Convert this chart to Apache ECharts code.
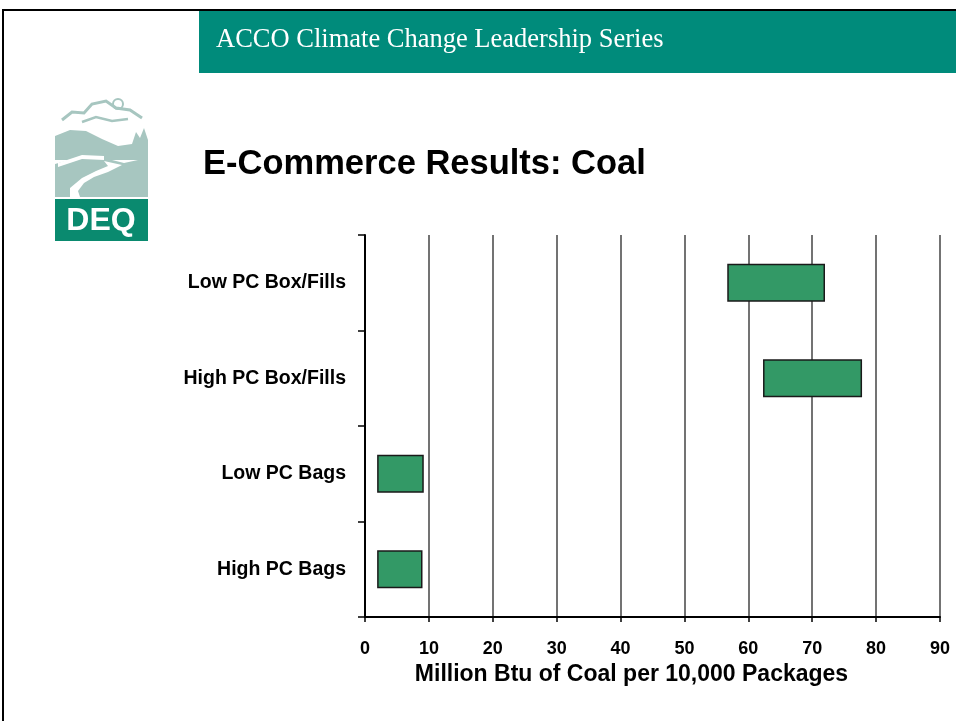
<!DOCTYPE html>
<html>
<head>
<meta charset="utf-8">
<script src="https://cdn.jsdelivr.net/npm/echarts@6/dist/echarts.min.js"></script>
<style>
  html, body { margin: 0; padding: 0; background: #fff; }
  #chart { width: 956px; height: 721px; }
</style>
</head>
<body>
<div id="chart"></div>
<script>
// categories top to bottom
var categories = ["Low PC Box/Fills", "High PC Box/Fills", "Low PC Bags", "High PC Bags"];
// range of each bar (million Btu per 10,000 packages)
var rangeStart = [56.7, 62.3, 1.9, 1.9];
var rangeEnd = [72.0, 77.8, 9.2, 9.0];
var xTicks = [0, 10, 20, 30, 40, 50, 60, 70, 80, 90];

var rangeLength = rangeEnd.map(function (v, i) { return +(v - rangeStart[i]).toFixed(2); });

var teal = "#008b7b";
var logoGrey = "#a7c6c0";
var barGreen = "#339966";

var chart = echarts.init(document.getElementById("chart"));

var option = {
  backgroundColor: "#fff",
  animation: false,
  grid: { left: 365, right: 16, top: 235, bottom: 104, containLabel: false },
  xAxis: {
    type: "value",
    min: xTicks[0],
    max: xTicks[xTicks.length - 1],
    interval: 10,
    name: "Million Btu of Coal per 10,000 Packages",
    nameLocation: "middle",
    nameGap: 44,
    nameTextStyle: { fontFamily: "Liberation Sans", fontWeight: "bold", fontSize: 23, color: "#000", padding: [0, 42, 0, 0] },
    axisLine: { show: true, lineStyle: { color: "#000", width: 2 } },
    axisTick: { show: true, length: 5, inside: false, lineStyle: { color: "#000", width: 1.5 } },
    axisLabel: { fontFamily: "Liberation Sans", fontWeight: "bold", fontSize: 18, color: "#000", margin: 23 },
    splitLine: { show: true, lineStyle: { color: "#444", width: 1.5 } }
  },
  yAxis: {
    type: "category",
    data: categories,
    inverse: true,
    axisLine: { show: true, lineStyle: { color: "#000", width: 2 } },
    axisTick: { show: true, length: 7, lineStyle: { color: "#000", width: 1.5 } },
    axisLabel: { fontFamily: "Liberation Sans", fontWeight: "bold", fontSize: 19.5, color: "#000", margin: 19 },
    splitLine: { show: false }
  },
  series: [
    {
      name: "base",
      type: "bar",
      stack: "range",
      data: rangeStart,
      barWidth: 38,
      itemStyle: { color: "transparent" },
      silent: true
    },
    {
      name: "range",
      type: "bar",
      stack: "range",
      data: rangeLength,
      barWidth: 38,
      itemStyle: { color: barGreen, borderColor: "#1a1a1a", borderWidth: 1.5 }
    }
  ],
  graphic: [
    // page border
    { type: "rect", left: 2, top: 9, shape: { width: 2, height: 712 }, style: { fill: "#000" } },
    { type: "rect", left: 2, top: 9, shape: { width: 954, height: 2 }, style: { fill: "#000" } },
    // header band
    { type: "rect", left: 199, top: 11, shape: { width: 757, height: 62 }, style: { fill: teal } },
    {
      type: "text", x: 216, y: 40,
      style: { text: "ACCO Climate Change Leadership Series", fill: "#fff", font: "26.5px 'Liberation Serif'", verticalAlign: "middle" }
    },
    // title
    {
      type: "text", x: 203, y: 164,
      style: { text: "E-Commerce Results: Coal", fill: "#000", font: "bold 34.5px 'Liberation Sans'", verticalAlign: "middle" }
    },
    // DEQ logo
    {
      type: "group",
      children: [
        // clouds
        { type: "polyline", shape: { points: [[62, 120], [72, 112], [84, 113], [92, 104], [106, 101], [116, 108], [130, 110], [142, 118]] }, style: { stroke: logoGrey, lineWidth: 3, fill: null } },
        { type: "polyline", shape: { points: [[82, 122], [96, 117], [112, 121], [128, 119]] }, style: { stroke: logoGrey, lineWidth: 2.5, fill: null } },
        { type: "circle", shape: { cx: 118, cy: 104, r: 5 }, style: { stroke: logoGrey, lineWidth: 2, fill: null } },
        // mountains
        { type: "polygon", shape: { points: [[55, 136], [70, 130], [86, 131], [102, 139], [118, 146], [132, 144], [136, 132], [140, 138], [144, 128], [148, 140], [148, 160], [55, 160]] }, style: { fill: logoGrey } },
        { type: "polygon", shape: { points: [[55, 164], [80, 157], [104, 158], [124, 163], [138, 160], [148, 160], [148, 197], [55, 197]] }, style: { fill: logoGrey } },
        // river
        { type: "polygon", shape: { points: [[104, 161], [122, 165], [108, 172], [94, 177], [84, 183], [78, 191], [80, 197], [70, 197], [70, 188], [82, 178], [96, 171], [108, 166]] }, style: { fill: "#fff" } },
        { type: "polygon", shape: { points: [[58, 163], [82, 155], [104, 156], [104, 160], [82, 159], [58, 167]] }, style: { fill: "#fff" } },
        // DEQ box
        { type: "rect", shape: { x: 55, y: 199, width: 93, height: 42 }, style: { fill: "#0a8a6f" } },
        { type: "text", style: { x: 101, y: 221, text: "DEQ", fill: "#fff", font: "bold 32px 'Liberation Sans'", align: "center", verticalAlign: "middle" } }
      ]
    }
  ]
};

chart.setOption(option);
</script>
</body>
</html>
